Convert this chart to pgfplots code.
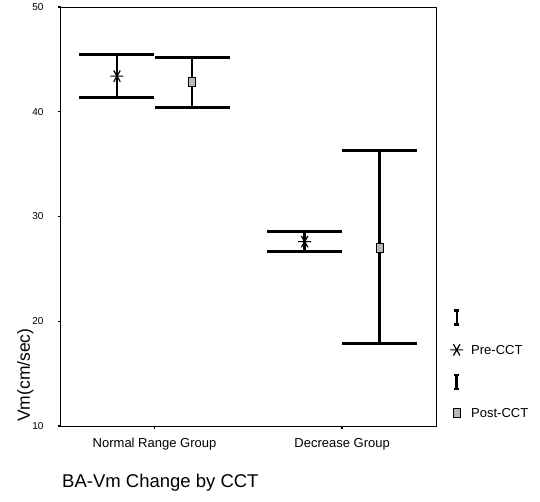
\documentclass[border=0pt]{standalone}
\usepackage{fontspec}
\setmainfont{Liberation Sans}
\usepackage{pgfplots}
\usepackage{pgfplotstable}
\pgfplotsset{compat=1.18}

% x y ep em  (mean, distance to upper and lower bar)
\pgfplotstableread{
x   y    ep  em
0.8 43.4 2.1 2.0
1.8 27.6 1.0 0.9
}\pre
\pgfplotstableread{
x   y    ep  em
1.2 42.8 2.4 2.4
2.2 27.0 9.3 9.1
}\post

\begin{document}
\begin{tikzpicture}
\useasboundingbox (-60.7pt,-76pt) rectangle (479.3pt,426pt);
\begin{axis}[
  scale only axis, width=375.3pt, height=419pt,
  xmin=0.5, xmax=2.5, ymin=10, ymax=50,
  xtick={1,2}, xticklabels={Normal Range Group, Decrease Group},
  ytick={10,20,30,40,50},
  tick align=outside, xtick pos=bottom, ytick pos=left,
  major tick length=3pt, tick style={line width=1.4pt, black},
  axis line style={line width=0.9pt},
  /pgf/number format/assume math mode=true,
  yticklabel style={font=\fontsize{10}{12}\selectfont, inner sep=0pt, xshift=-14pt},
  xticklabel style={font=\fontsize{13}{15}\selectfont, inner sep=0pt, yshift=-9pt},
  ylabel={Vm(cm/sec)},
  every axis y label/.style={at={(axis description cs:-0.0818,0.0095)}, anchor=base west, rotate=90, inner sep=0pt, font=\fontsize{17.5}{20}\selectfont},
  title={BA-Vm Change by CCT},
  every axis title/.style={at={(axis description cs:0.0035,-0.1456)}, anchor=base west, inner sep=0pt, font=\fontsize{18.5}{22}\selectfont},
  clip=false,
  legend image code/.code={\draw[mark repeat=2,mark phase=2] plot coordinates {(0pt,0pt)(5pt,0pt)(10pt,0pt)};},
  legend style={at={(rel axis cs:1,0)}, anchor=south west, xshift=14pt, yshift=8pt,
    draw=none, fill=none, inner sep=0pt, row sep=18.4pt, column sep=8pt,
    nodes={inner sep=0pt, text height=8.6pt, text depth=0pt, font=\fontsize{13}{15}\selectfont}},
  legend cell align=left,
]
\addlegendimage{legend image code/.code={
  \draw[line width=2pt] (5pt,-7pt)--(5pt,7pt);
  \draw[line width=2.5pt] (2.5pt,7pt)--(7.5pt,7pt) (2.5pt,-7pt)--(7.5pt,-7pt);}}
\addlegendentry{}
\addplot[only marks, mark=asterisk, mark size=6.5pt, mark options={rotate=90, line width=1.2pt, black},
  error bars/.cd, y dir=both, y explicit,
  error bar style={line width=2.5pt, black},
  error mark=|, error mark options={line width=3pt, mark size=37.5pt, black}]
  table[x=x, y=y, y error plus=ep, y error minus=em] {\pre};
\addlegendentry{Pre-CCT}
\addlegendimage{legend image code/.code={
  \draw[line width=2.5pt] (5pt,-7pt)--(5pt,7pt);
  \draw[line width=2.5pt] (2.5pt,7pt)--(7.5pt,7pt) (2.5pt,-7pt)--(7.5pt,-7pt);}}
\addlegendentry{}
\addplot[only marks, mark=square*, mark size=4.5pt, mark options={xscale=0.8, fill=gray!55, draw=black, line width=0.9pt},
  error bars/.cd, y dir=both, y explicit,
  error bar style={line width=2.5pt, black},
  error mark=|, error mark options={line width=3pt, mark size=37.5pt, black}]
  table[x=x, y=y, y error plus=ep, y error minus=em] {\post};
\addlegendentry{Post-CCT}
\end{axis}
\end{tikzpicture}
\end{document}
